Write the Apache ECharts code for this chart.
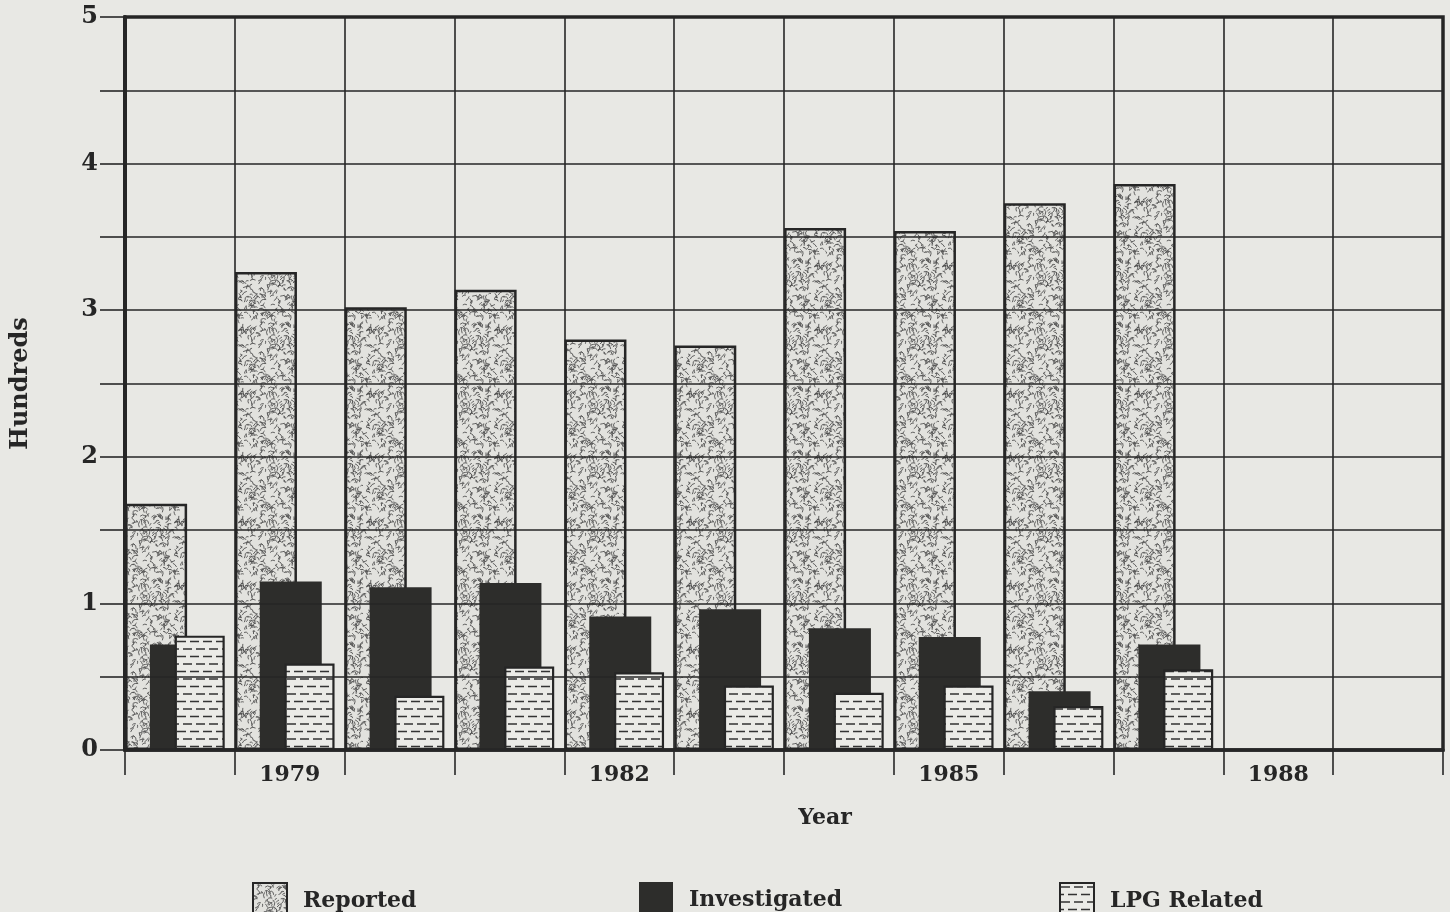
<!DOCTYPE html>
<html>
<head>
<meta charset="utf-8">
<script src="https://cdn.jsdelivr.net/npm/echarts@6/dist/echarts.min.js"></script>
<style>
html,body{margin:0;padding:0;background:#e8e8e4;}
#chart{width:1450px;height:912px;}
</style>
</head>
<body>
<div id="chart"></div>
<script>
// ---- data (hundreds) ----
const years = ['1978','1979','1980','1981','1982','1983','1984','1985','1986','1987','1988','1989'];
const reported     = [1.68, 3.26, 3.02, 3.14, 2.80, 2.76, 3.56, 3.54, 3.73, 3.86, null, null];
const investigated = [0.72, 1.15, 1.11, 1.14, 0.91, 0.96, 0.83, 0.77, 0.40, 0.72, null, null];
const lpgRelated   = [0.78, 0.59, 0.37, 0.57, 0.53, 0.44, 0.39, 0.44, 0.30, 0.55, null, null];
const yTicks = [0, 1, 2, 3, 4, 5];
const shownYears = ['1979', '1982', '1985', '1988'];

const INK = '#262626';
const FONT = '"DejaVu Serif", "Liberation Serif", serif';

// deterministic texture helper (for the fill pattern only)
function h(i){ const s = Math.sin(i * 12.9898 + 78.233) * 43758.5453; return s - Math.floor(s); }

function stipplePattern(){
  const W = 64, H = 64;
  const c = document.createElement('canvas'); c.width = W; c.height = H;
  const g = c.getContext('2d');
  g.fillStyle = '#e2e2de'; g.fillRect(0, 0, W, H);
  g.strokeStyle = '#505050'; g.lineWidth = 0.9; g.lineCap = 'round';
  for (let i = 0; i < 260; i++) {
    const x = h(i) * W, y = h(i + 300) * H;
    const a = -1.2 + (h(i + 600) - 0.5) * 2.0;
    const l = 1.2 + h(i + 900) * 2.4;
    const bend = (h(i + 1200) - 0.5) * 2.6;
    for (let dx = -W; dx <= W; dx += W) for (let dy = -H; dy <= H; dy += H) {
      g.beginPath();
      g.moveTo(x + dx, y + dy);
      g.quadraticCurveTo(x + dx + Math.cos(a) * l, y + dy + Math.sin(a) * l,
                         x + dx + Math.cos(a + bend) * l * 1.6, y + dy + Math.sin(a + bend) * l * 1.6);
      g.stroke();
    }
  }
  return c;
}

function dashPattern(){
  const W = 26, H = 15;
  const c = document.createElement('canvas'); c.width = W; c.height = H;
  const g = c.getContext('2d');
  g.fillStyle = '#ebebe7'; g.fillRect(0, 0, W, H);
  g.strokeStyle = '#333333'; g.lineWidth = 1.5;
  g.beginPath();
  g.moveTo(1, 4); g.lineTo(10, 4);
  g.moveTo(14, 4); g.lineTo(23, 4);
  g.moveTo(-5, 11.5); g.lineTo(4, 11.5);
  g.moveTo(8, 11.5); g.lineTo(17, 11.5);
  g.moveTo(21, 11.5); g.lineTo(30, 11.5);
  g.stroke();
  return c;
}

const stip = stipplePattern();
const dash = dashPattern();

const chart = echarts.init(document.getElementById('chart'), null, {renderer: 'canvas'});

const legendBase = {
  orient: 'horizontal', top: 877, itemWidth: 34, itemHeight: 36, icon: 'rect',
  selectedMode: false,
  textStyle: {fontFamily: FONT, fontSize: 22, fontWeight: 'bold', color: INK, padding: [0, 0, 0, 11]}
};

chart.setOption({
  backgroundColor: '#e8e8e4',
  animation: false,
  grid: {left: 125, right: 7, top: 17, bottom: 162, show: true, borderColor: INK, borderWidth: 3.5, backgroundColor: 'transparent'},
  legend: [
    Object.assign({}, legendBase, {left: 247, data: ['Reported']}),
    Object.assign({}, legendBase, {left: 634, data: ['Investigated']}),
    Object.assign({}, legendBase, {left: 1054, data: ['LPG Related']})
  ],
  xAxis: {
    type: 'category', data: years, boundaryGap: true, z: 4,
    name: 'Year', nameLocation: 'middle', nameGap: 57,
    nameTextStyle: {fontFamily: FONT, fontSize: 22, fontWeight: 'bold', color: INK, padding: [0, 0, 0, 82]},
    axisLine: {show: true, lineStyle: {color: INK, width: 3.5}},
    axisTick: {show: true, interval: 0, length: 25, lineStyle: {color: INK, width: 1.6}},
    splitLine: {show: true, interval: 0, lineStyle: {color: INK, width: 1.6}},
    axisLabel: {
      interval: 0, margin: 14,
      formatter: v => shownYears.indexOf(v) >= 0 ? v : '',
      fontFamily: FONT, fontSize: 22, fontWeight: 'bold', color: INK
    }
  },
  yAxis: {
    type: 'value', min: 0, max: 5, interval: 0.5, z: 4,
    name: 'Hundreds', nameLocation: 'middle', nameGap: 92, nameRotate: 90,
    nameTextStyle: {fontFamily: FONT, fontSize: 24, fontWeight: 'bold', color: INK},
    axisLine: {show: true, lineStyle: {color: INK, width: 4}},
    axisTick: {show: true, length: 25, lineStyle: {color: INK, width: 1.6}},
    splitLine: {show: true, lineStyle: {color: INK, width: 1.6}},
    axisLabel: {
      margin: 27,
      formatter: v => yTicks.indexOf(v) >= 0 ? String(v) : '',
      fontFamily: FONT, fontSize: 24, fontWeight: 'bold', color: INK
    }
  },
  series: [
    {
      name: 'Reported', type: 'bar', data: reported, barWidth: 62, barGap: '-60%', z: 2,
      itemStyle: {color: {image: stip, repeat: 'repeat'}, borderColor: INK, borderWidth: 2.5}
    },
    {
      name: 'Investigated', type: 'bar', data: investigated, barWidth: 62, barGap: '-60%', z: 2,
      itemStyle: {color: '#2d2d2b', borderColor: '#2d2d2b', borderWidth: 0}
    },
    {
      name: 'LPG Related', type: 'bar', data: lpgRelated, barWidth: 50, barGap: '-60%', z: 2,
      itemStyle: {color: {image: dash, repeat: 'repeat'}, borderColor: INK, borderWidth: 2.2}
    },
    {
      // empty spacer so that each year's group starts at the band's left edge
      name: 'spacer', type: 'bar', data: [], barWidth: 40, barGap: '-60%', silent: true
    }
  ]
});
</script>
</body>
</html>
